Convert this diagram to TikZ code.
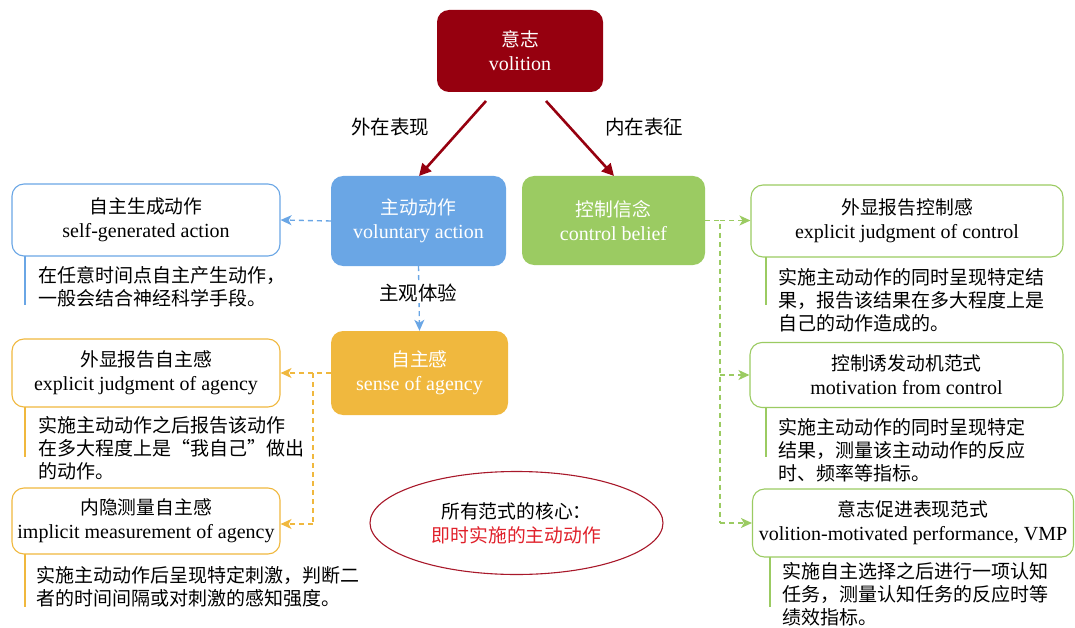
\documentclass[tikz,border=0pt]{standalone}
\usepackage{fontspec}
\setmainfont{Liberation Serif}
\newfontfamily\cjk{Noto Sans CJK SC}
\usetikzlibrary{arrows.meta,shapes.geometric}
\definecolor{vred}{HTML}{96000F}
\definecolor{vblue}{HTML}{6AA6E5}
\definecolor{vgreen}{HTML}{9BCB62}
\definecolor{vyellow}{HTML}{F0B83E}
\definecolor{ering}{HTML}{A8182A}
\definecolor{etext}{HTML}{E0202A}
\newcommand{\zh}[1]{{\cjk\fontsize{18.8}{24}\selectfont #1}}
\tikzset{
  fillbox/.style={rounded corners=12pt, text=white, align=center, inner sep=0pt, font=\fontsize{20}{24}\selectfont},
  linebox/.style={draw, fill=white, line width=1.1pt, rounded corners=12pt, align=center, inner sep=0pt, font=\fontsize{20}{24}\selectfont},
  desc/.style={anchor=north west, align=left, inner sep=0pt, font=\cjk\fontsize{19}{23}\selectfont},
  lbl/.style={inner sep=1pt, font=\cjk\fontsize{19.5}{22}\selectfont},
  redarrow/.style={draw=vred, line width=2.6pt, -{Triangle[length=12pt,width=12pt]}},
  dasharrow/.style={line width=1.4pt, dash pattern=on 5pt off 4pt, -{Stealth[length=11pt,width=10pt,inset=3pt]}},
  dashline/.style={line width=1.4pt, dash pattern=on 5pt off 4pt},
  stem/.style={line width=1.1pt}
}
\begin{document}
\begin{tikzpicture}[x=1pt,y=-1pt]
\useasboundingbox (0,0) rectangle (1075,628);
% main boxes
\node[fillbox, fill=vred, minimum width=166pt, minimum height=82pt] (vol) at (520,51) {\zh{意志}\\volition};
\node[fillbox, fill=vblue, minimum width=175pt, minimum height=90pt] (va) at (418.5,221) {\zh{主动动作}\\voluntary action};
\node[fillbox, fill=vgreen, minimum width=183pt, minimum height=89pt] (cb) at (613.5,220.5) {\zh{控制信念}\\control belief};
\node[fillbox, fill=vyellow, minimum width=177pt, minimum height=84pt] (sa) at (419.5,373) {\zh{自主感}\\sense of agency};
% red arrows
\coordinate (r1s) at (486,101); \coordinate (r1e) at (419,176);
\coordinate (r2s) at (546,101); \coordinate (r2e) at (614,176);
\draw[redarrow] (r1s) -- (r1e);
\draw[redarrow] (r2s) -- (r2e);
\node[lbl] (l1) at (390,127) {外在表现};
\node[lbl] (l2) at (644,127) {内在表征};
% left boxes
\node[linebox, draw=vblue, minimum width=268pt, minimum height=72pt] (sg) at (146,220) {\zh{自主生成动作}\\self-generated action};
\node[linebox, draw=vyellow, minimum width=268pt, minimum height=68pt] (ej) at (146,373) {\zh{外显报告自主感}\\explicit judgment of agency};
\node[linebox, draw=vyellow, minimum width=268pt, minimum height=66pt] (im) at (146,521) {\zh{内隐测量自主感}\\implicit measurement of agency};
% right boxes
\node[linebox, draw=vgreen, minimum width=312pt, minimum height=72pt] (ejc) at (907,221) {\zh{外显报告控制感}\\explicit judgment of control};
\node[linebox, draw=vgreen, minimum width=313pt, minimum height=65pt] (mc) at (906.5,375) {\zh{控制诱发动机范式}\\motivation from control};
\node[linebox, draw=vgreen, minimum width=321pt, minimum height=68pt] (vmp) at (913,523) {\zh{意志促进表现范式}\\volition-motivated performance, VMP};
% stems
\coordinate (s1a) at (25,256); \coordinate (s1b) at (25,305);
\coordinate (s2a) at (25,407); \coordinate (s2b) at (25,457);
\coordinate (s3a) at (25,554); \coordinate (s3b) at (25,607);
\coordinate (s4a) at (766,257); \coordinate (s4b) at (766,305);
\coordinate (s5a) at (766,407.5); \coordinate (s5b) at (766,457);
\coordinate (s6a) at (770,557); \coordinate (s6b) at (770,607);
\draw[stem, vblue] (s1a) -- (s1b);
\draw[stem, vyellow] (s2a) -- (s2b);
\draw[stem, vyellow] (s3a) -- (s3b);
\draw[stem, vgreen] (s4a) -- (s4b);
\draw[stem, vgreen] (s5a) -- (s5b);
\draw[stem, vgreen] (s6a) -- (s6b);
% descriptions
\node[desc] (d1) at (38,266) {在任意时间点自主产生动作，\\一般会结合神经科学手段。};
\node[desc] (d2) at (38,416) {实施主动动作之后报告该动作\\在多大程度上是“我自己”做出\\的动作。};
\node[desc] (d3) at (36,566) {实施主动动作后呈现特定刺激，判断二\\者的时间间隔或对刺激的感知强度。};
\node[desc] (d4) at (778,268) {实施主动动作的同时呈现特定结\\果，报告该结果在多大程度上是\\自己的动作造成的。};
\node[desc] (d5) at (778,418) {实施主动动作的同时呈现特定\\结果，测量该主动动作的反应\\时、频率等指标。};
\node[desc] (d6) at (782,562) {实施自主选择之后进行一项认知\\任务，测量认知任务的反应时等\\绩效指标。};
% blue connectors
\draw[dasharrow, vblue] (va.west) -- (sg.east);
\draw[dasharrow, vblue] (va.south) -- (sa.north);
\node[lbl, fill=white] (l3) at (418,293) {主观体验};
% orange connectors
\coordinate (oj) at (313,373);
\coordinate (ob) at (313,524);
\draw[dashline, vyellow] (sa.west) -- (oj) -- (ob);
\draw[dasharrow, vyellow] (oj) -- (ej.east);
\draw[dasharrow, vyellow] (ob) -- (im.east |- ob);
% green connectors
\coordinate (gj) at (720,220.5);
\coordinate (g2) at (720,375);
\coordinate (g3) at (720,523);
\draw[dashline, vgreen] (cb.east) -- (gj) -- (g3);
\draw[dasharrow, vgreen] (gj) -- (ejc.west |- gj);
\draw[dasharrow, vgreen] (g2) -- (mc.west);
\draw[dasharrow, vgreen] (g3) -- (vmp.west);
% ellipse
\node[ellipse, draw=ering, line width=1.1pt, minimum width=293pt, minimum height=103pt, align=center, inner sep=0pt, font=\cjk\fontsize{18.8}{24}\selectfont] (core) at (516.5,523) {所有范式的核心：\\\textcolor{etext}{即时实施的主动动作}};
\end{tikzpicture}
\end{document}
